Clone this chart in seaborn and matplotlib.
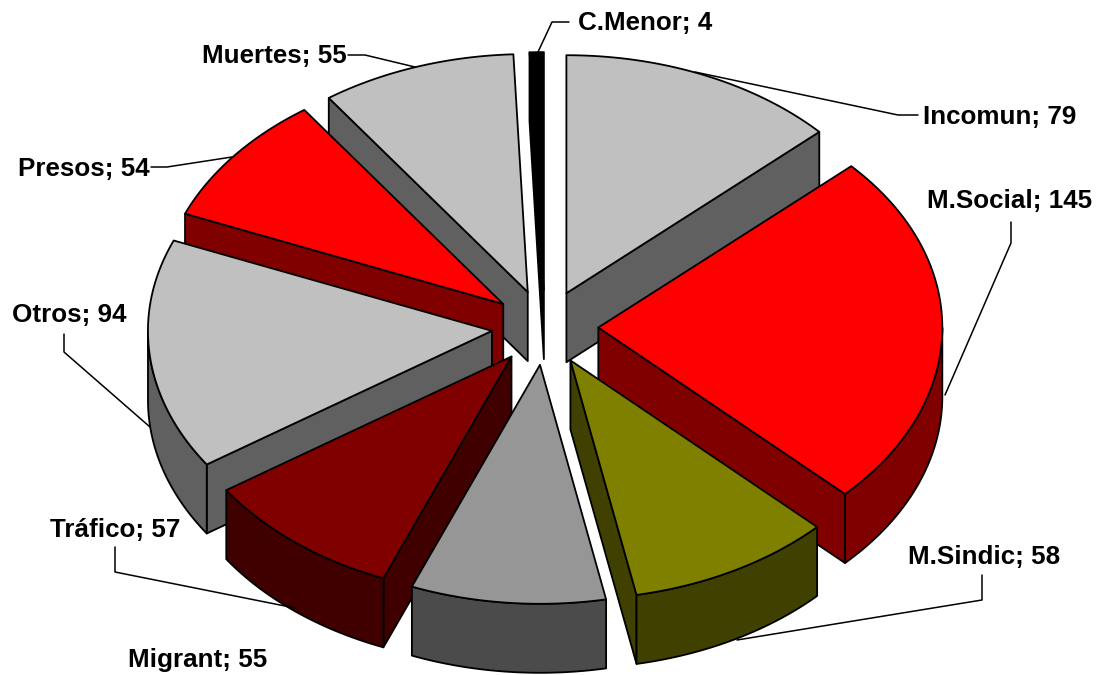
import numpy as np
import matplotlib
matplotlib.use("Agg")
import matplotlib.pyplot as plt
import seaborn as sns

# Slices, clockwise from 12 o'clock
names = ["Incomun", "M.Social", "M.Sindic", "Migrant", "Tráfico", "Otros", "Presos", "Muertes", "C.Menor"]
values = [79, 145, 58, 55, 57, 94, 54, 55, 4]
top_colors = ["#C0C0C0", "#FF0000", "#808000", "#969696", "#800000", "#C0C0C0", "#FF0000", "#C0C0C0", "#000000"]
side_colors = ["#606060", "#800000", "#404000", "#4B4B4B", "#400000", "#606060", "#800000", "#606060", "#000000"]

# Label anchors (left x, centre y) and leader lines in pixels
label_pos = [(923, 117), (927, 201), (908, 557), (128, 660), (50, 530), (12, 315), (18, 169), (202, 56), (578, 23)]
leaders = [
    [(918, 115), (898, 115), (695, 72)],
    [(1011, 222), (1011, 243), (945, 395)],
    [(982, 575), (982, 600), (737, 640)],
    [],
    [(115, 547), (115, 572), (295, 608)],
    [(64, 334), (64, 352), (150, 427)],
    [(151, 167), (167, 167), (232, 157)],
    [(348, 55), (365, 55), (415, 67)],
    [(569, 22), (552, 22), (538, 52)],
]

# Projection of the tilted pie
cx, cy = 545, 327
rx, ry_back, ry_front = 344, 238, 239
explode = 0.155
depth = 69

sns.set_theme(style="white")
plt.rcParams["font.family"] = ["Liberation Sans", "DejaVu Sans"]

fig = plt.figure(figsize=(11.04, 6.75), dpi=100)
ax = fig.add_axes([0, 0, 1, 1])
ax.set_xlim(0, 1104)
ax.set_ylim(675, 0)
ax.axis("off")


def project(theta, r, back=ry_back, front=ry_front):
    c = np.cos(theta)
    return rx * r * np.sin(theta), -np.where(c >= 0, back, front) * r * c


edges = np.radians(np.concatenate([[0], np.cumsum(values)]) / sum(values) * 360)
mids = (edges[:-1] + edges[1:]) / 2
off_x, off_y = project(mids, explode, front=245)
tip_x, tip_y = cx + off_x, cy + off_y

# Back slices first so that front slices cover them
for i in sorted(range(len(values)), key=lambda k: tip_y[k]):
    px, py = project(np.linspace(edges[i], edges[i + 1], 80), 1)
    x = tip_x[i] + px
    y = tip_y[i] + py
    side_kw = dict(facecolor=side_colors[i], edgecolor="black", linewidth=1.3, joinstyle="round")

    # cut faces, only the ones turned towards the viewer
    for k, visible in ((0, np.sin(edges[i]) < -1e-6), (-1, np.sin(edges[i + 1]) > 1e-6)):
        if visible:
            ax.fill([tip_x[i], x[k], x[k], tip_x[i]],
                    [tip_y[i], y[k], y[k] + depth, tip_y[i] + depth], **side_kw)

    # outer rim, front half only
    lo, hi = max(edges[i], np.pi / 2), min(edges[i + 1], 3 * np.pi / 2)
    if lo < hi:
        rim_x, rim_y = project(np.linspace(lo, hi, 60), 1)
        rim_x = tip_x[i] + rim_x
        rim_y = tip_y[i] + rim_y
        ax.fill(np.r_[rim_x, rim_x[::-1]], np.r_[rim_y, rim_y[::-1] + depth], **side_kw)

    # top
    ax.fill(np.r_[tip_x[i], x], np.r_[tip_y[i], y],
            facecolor=top_colors[i], edgecolor="black", linewidth=1.3, joinstyle="round")

for name, value, pos, line in zip(names, values, label_pos, leaders):
    ax.text(pos[0], pos[1], f"{name}; {value}", fontsize=18.7, fontweight="bold",
            color="black", ha="left", va="center")
    if line:
        ax.plot([p[0] for p in line], [p[1] for p in line], color="black", linewidth=1.1)

fig.savefig("out.png", dpi=100, facecolor="white")
